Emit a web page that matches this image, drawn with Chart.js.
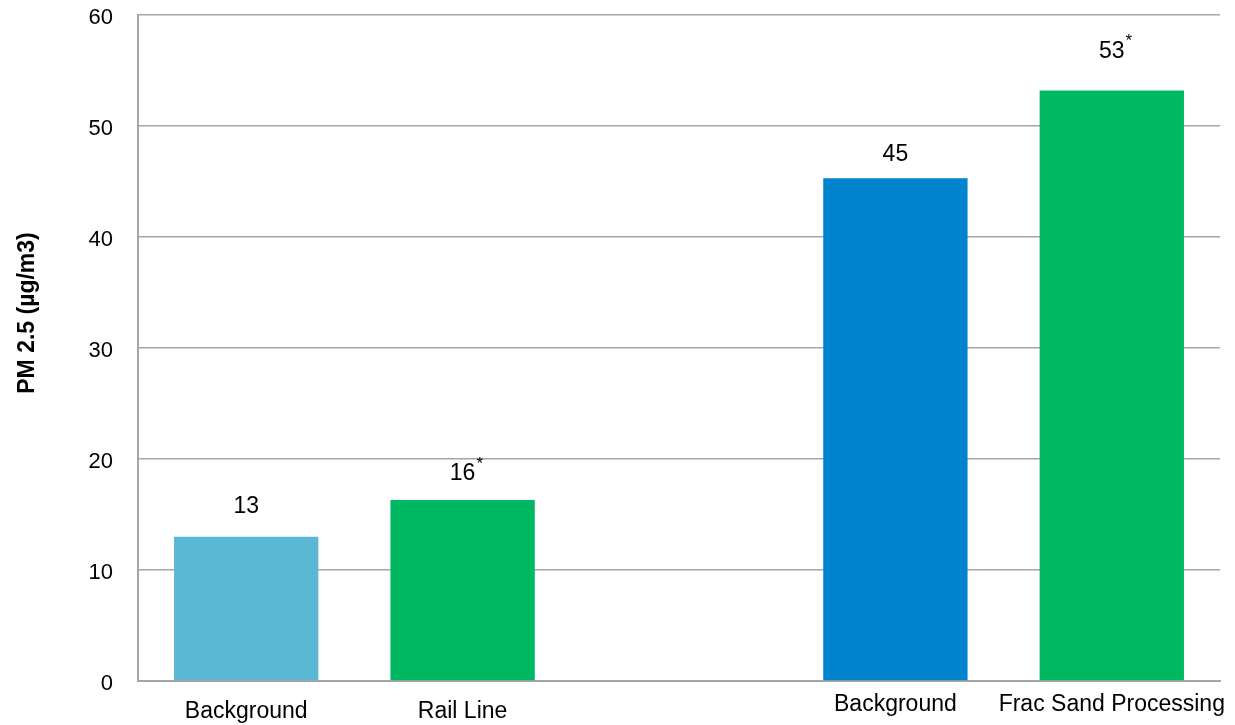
<!DOCTYPE html>
<html>
<head>
<meta charset="utf-8">
<script src="https://cdn.jsdelivr.net/npm/chart.js@4/dist/chart.umd.min.js"></script>
<style>
  html, body { margin: 0; padding: 0; background: #ffffff; }
  #wrap { width: 1235px; height: 725px; position: relative; }
</style>
</head>
<body>
<div id="wrap"><canvas id="c" width="1235" height="725"></canvas></div>
<script>
// Sites, with an empty slot separating the two comparisons
const categories = ['Background', 'Rail Line', '', 'Background', 'Frac Sand Processing'];
// PM 2.5 concentrations (µg/m3)
const pm25 = [13, 16.3, null, 45.3, 53.2];
// Values flagged with an asterisk
const flagged = [false, true, false, false, true];
const barColors = ['#5BB8D3', '#00B862', '#ffffff', '#0084CD', '#00B862'];
const yTicks = [0, 10, 20, 30, 40, 50, 60];
const yTitle = 'PM 2.5 (µg/m3)';

const FONT = '"Liberation Sans", Arial, sans-serif';
// Vertical placement of category names (first pair sits a little lower)
const nameY = [712, 712, 712, 705, 705];
// Gap between bar top and its value label
const valueGap = [30, 26, 0, 24, 39];

const annotate = {
  id: 'annotate',
  afterDatasetsDraw(chart) {
    const ctx = chart.ctx;
    const x = chart.scales.x;
    const meta = chart.getDatasetMeta(0);
    ctx.save();
    ctx.fillStyle = '#000000';
    ctx.textBaseline = 'middle';

    // axis title
    ctx.save();
    ctx.translate(28, 313);
    ctx.rotate(-Math.PI / 2);
    ctx.textAlign = 'center';
    ctx.font = 'bold 23px ' + FONT;
    ctx.fillText(yTitle, 0, 0);
    ctx.restore();

    ctx.textAlign = 'center';
    categories.forEach((name, i) => {
      const cx = x.getPixelForValue(i);
      if (name) {
        ctx.font = '23px ' + FONT;
        ctx.fillText(name, cx, nameY[i]);
      }
      const v = pm25[i];
      if (v !== null) {
        const bar = meta.data[i];
        const text = String(Math.round(v));
        const ly = bar.y - valueGap[i];
        ctx.font = '23px ' + FONT;
        ctx.fillText(text, cx, ly);
        if (flagged[i]) {
          const w = ctx.measureText(text).width;
          ctx.font = '17px ' + FONT;
          ctx.textAlign = 'left';
          ctx.fillText('*', cx + w / 2 + 1, ly - 10);
          ctx.textAlign = 'center';
        }
      }
    });
    ctx.restore();
  }
};

new Chart(document.getElementById('c'), {
  type: 'bar',
  data: {
    labels: categories,
    datasets: [{
      data: pm25,
      backgroundColor: barColors,
      borderWidth: 0,
      categoryPercentage: 1,
      barPercentage: 0.667
    }]
  },
  options: {
    responsive: false,
    animation: false,
    devicePixelRatio: 1,
    layout: { padding: { left: 0, right: 15, top: 15, bottom: 0 } },
    plugins: { legend: { display: false }, tooltip: { enabled: false } },
    scales: {
      x: {
        grid: { display: false, drawTicks: false },
        border: { display: true, color: '#a6a6a6', width: 2 },
        ticks: { display: false },
        afterFit(scale) { scale.height = 44; }
      },
      y: {
        min: 0,
        max: 60,
        afterBuildTicks(scale) { scale.ticks = yTicks.map(v => ({ value: v })); },
        grid: { color: '#a6a6a6', lineWidth: 1.5, drawTicks: false },
        border: { display: true, color: '#a6a6a6', width: 2 },
        ticks: {
          padding: 25,
          labelOffset: 3,
          color: '#000000',
          font: { family: FONT, size: 22 }
        },
        afterFit(scale) {
          scale.width = 138;
          scale.paddingTop = 0;
          scale.paddingBottom = 0;
        }
      }
    }
  },
  plugins: [annotate]
});
</script>
</body>
</html>
